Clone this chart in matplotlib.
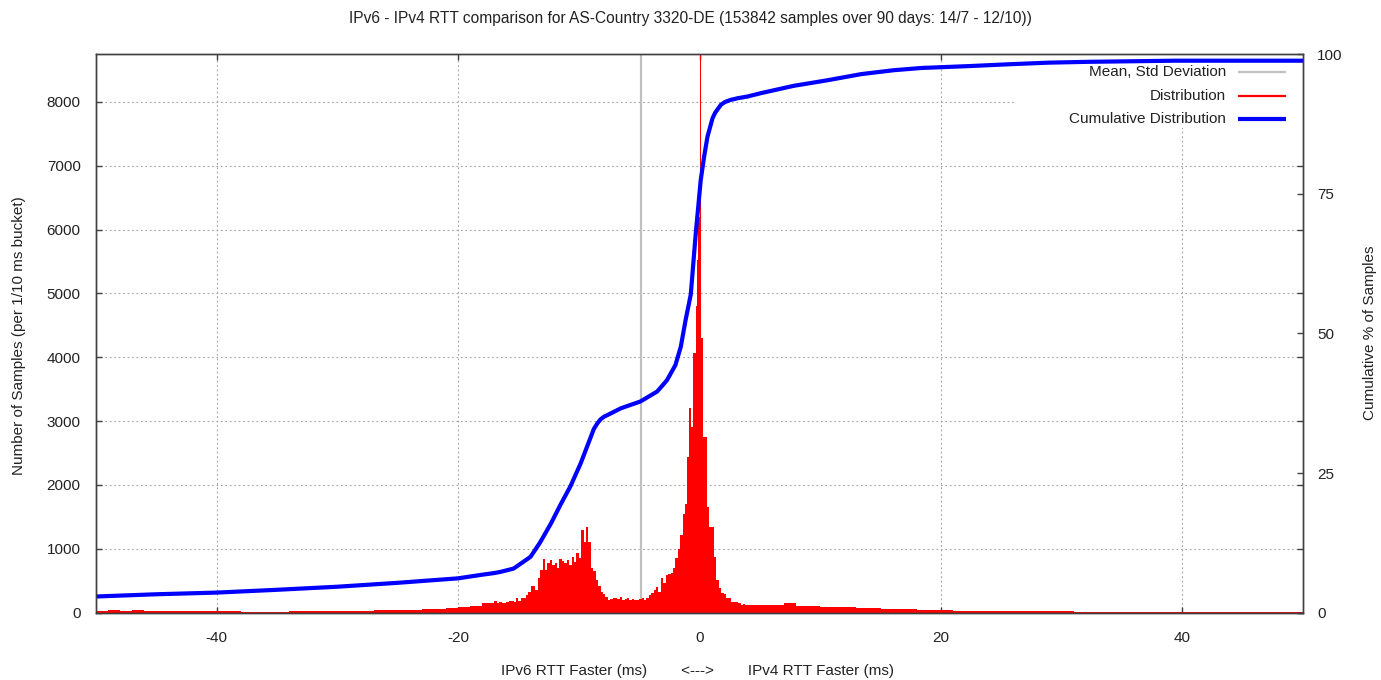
import matplotlib
matplotlib.use("Agg")
import matplotlib.pyplot as plt
import numpy as np
from matplotlib.patches import Rectangle

plt.rcParams["font.family"] = ["Liberation Sans", "DejaVu Sans"]
plt.rcParams["font.size"] = 11
plt.rcParams["axes.unicode_minus"] = False

TITLE = "IPv6 - IPv4 RTT comparison for AS-Country 3320-DE (153842 samples over 90 days: 14/7 - 12/10))"
XLABEL = "IPv6 RTT Faster (ms)        <--->        IPv4 RTT Faster (ms)"
YLABEL = "Number of Samples (per 1/10 ms bucket)"
Y2LABEL = "Cumulative % of Samples"

COLORS = {
    "dist": "#ff0000",
    "cdf": "#0000ff",
    "mean": "#c0c0c0",
    "grid": "#a0a0a0",
    "frame": "#404040",
}

# distribution, counts per bucket
# -50 .. -17 ms, 1 ms buckets
tail_left_counts = [30, 35, 30, 35, 30, 28, 30, 25, 28, 25,
                    20, 20, 18, 18, 18, 18, 20, 20, 22, 22,
                    25, 28, 30, 35, 40, 45, 50, 55, 60, 70,
                    85, 110, 150]
# -17 .. -1 ms, 0.2 ms buckets
core_counts = [180, 150, 160, 147, 147, 160, 190, 190, 172, 225,
               190, 225, 225, 277, 330, 420, 420, 355, 540, 670,
               835, 670, 780, 825, 745, 780, 695, 840, 815, 775,
               825, 745, 877, 800, 930, 850, 1295, 1110, 1346, 1110,
               700, 650, 512, 420, 330, 300, 250, 200, 215, 225,
               225, 210, 240, 200, 215, 225, 200, 215, 200, 200,
               210, 225, 200, 230, 277,
               310, 355, 410, 330, 545, 465, 590, 600, 620, 700,
               850, 1000, 1210, 1550, 1700]
# -1 .. 0.6 ms, 0.1 ms buckets
peak_counts = [2440, 3200, 3200, 2910, 2910, 4060, 4060, 4800, 5520, 6200,
               8750, 4300, 4300, 2750, 2750, 2750]
# 0.6 .. 4 ms, 0.2 ms buckets
shoulder_counts = [1660, 1350, 1350, 880, 510, 390, 310, 300, 230, 230,
                   170, 170, 160, 150, 120, 130, 120]
# 4 .. 50 ms, 1 ms buckets
tail_right_counts = [120, 115, 125, 150, 110, 100, 95, 90, 85, 80,
                     80, 65, 60, 55, 50, 45, 35, 30, 30, 28,
                     26, 25, 24, 24, 22, 20, 20, 18, 18, 16,
                     15, 14, 14, 15, 14, 13, 13, 12, 12, 12,
                     12, 11, 11, 11, 11, 10]

# cumulative distribution (percent)
cdf_x = [-50, -45, -40, -35, -30, -25, -20, -18, -17, -16.5,
         -15.4, -14.8, -14.0, -13.2, -12.3, -11.5, -10.7, -9.85, -9.0, -8.75,
         -8.46, -8.2, -7.9, -7.6, -6.5, -4.9, -3.5, -2.7, -2.0, -1.55,
         -1.15, -0.72, -0.31, 0.1, 0.38, 0.66, 1.08, 1.3, 1.77, 2.1,
         2.6, 3.2, 4.0, 5.1, 7.8, 10.6, 13.4, 16.1, 18.4, 22.5,
         25.5, 28.9, 32.2, 39.4, 50]
cdf_pct = [2.9, 3.3, 3.6, 4.1, 4.65, 5.35, 6.15, 6.8, 7.1, 7.3,
           7.9, 8.8, 10.0, 12.6, 16.0, 19.4, 22.6, 26.7, 31.5, 32.9,
           33.9, 34.6, 35.1, 35.4, 36.6, 37.8, 39.6, 41.6, 44.3, 47.6,
           52.4, 57.0, 67.9, 77.4, 81.6, 85.2, 88.5, 89.5, 90.9, 91.4,
           91.8, 92.1, 92.4, 93.0, 94.3, 95.3, 96.4, 97.1, 97.5, 97.85,
           98.15, 98.45, 98.6, 98.8, 98.8]

mean_ms = -4.87

x_ticks = [-40, -20, 0, 20, 40]
y_ticks = [0, 1000, 2000, 3000, 4000, 5000, 6000, 7000, 8000]
y2_ticks = [0, 25, 50, 75, 100]
legend_labels = ["Mean, Std Deviation", "Distribution", "Cumulative Distribution"]


def bucket_edges():
    segs = [
        np.linspace(-50, -17, len(tail_left_counts) + 1),
        np.linspace(-17, -1, len(core_counts) + 1),
        np.linspace(-1, 0.6, len(peak_counts) + 1),
        np.linspace(0.6, 4, len(shoulder_counts) + 1),
        np.linspace(4, 50, len(tail_right_counts) + 1),
    ]
    return np.concatenate([segs[0]] + [s[1:] for s in segs[1:]])


fig = plt.figure(figsize=(13.81, 6.8), dpi=100)
ax = fig.add_axes([96 / 1381, 67.3 / 680, 1207 / 1381, 558.7 / 680])
ax2 = ax.twinx()

counts = np.array(tail_left_counts + core_counts + peak_counts + shoulder_counts + tail_right_counts)
edges = bucket_edges()

ax.set_axisbelow(True)
ax.grid(True, linestyle=(0, (1.5, 2.5)), color=COLORS["grid"], linewidth=0.8)
# key area blanks the grid, like gnuplot's opaque key
ax.add_patch(Rectangle((0.761, 0.8676), 0.239, 0.1324, transform=ax.transAxes,
                       facecolor="white", edgecolor="none", zorder=1))
ax.stairs(counts, edges, fill=True, color=COLORS["dist"], linewidth=0, zorder=2)
ax.axvline(mean_ms, color=COLORS["mean"], linewidth=1.6, zorder=1.8)

ax2.plot(cdf_x, cdf_pct, color=COLORS["cdf"], linewidth=3, solid_capstyle="butt")

ax.set_xlim(-50, 50)
ax.set_ylim(0, 8750)
ax2.set_ylim(0, 100)
ax.set_xticks(x_ticks)
ax.set_yticks(y_ticks)
ax2.set_yticks(y2_ticks)

for a in (ax, ax2):
    for s in a.spines.values():
        s.set_color(COLORS["frame"])
        s.set_linewidth(1.0)
ax.tick_params(axis="both", direction="in", length=4.5, width=1, color=COLORS["frame"],
               top=True, right=True, labelright=False, labelsize=11, labelcolor="#222222")
ax.tick_params(axis="x", pad=13)
ax.tick_params(axis="y", pad=11)
ax2.tick_params(axis="y", direction="in", length=4.5, width=1, color=COLORS["frame"],
                pad=10, labelsize=11, labelcolor="#222222")

fig.text(690 / 1381, 1 - 18 / 680, TITLE, ha="center", va="center", fontsize=11.2, color="#222222")
fig.text(697 / 1381, 1 - 671 / 680, XLABEL, ha="center", va="center", fontsize=11, color="#222222")
fig.text(19 / 1381, 1 - 336 / 680, YLABEL, ha="center", va="center", rotation=90, fontsize=11, color="#222222")
fig.text(1370 / 1381, 1 - 333 / 680, Y2LABEL, ha="center", va="center", rotation=90, fontsize=11, color="#222222")

# key, drawn by hand at gnuplot's spot
key_y = [0.9678, 0.9248, 0.8837]
key_style = [(COLORS["mean"], 1.6), (COLORS["dist"], 1.6), (COLORS["cdf"], 3)]
for y, label, (c, lw) in zip(key_y, legend_labels, key_style):
    ax2.text(0.9362, y, label, transform=ax2.transAxes, ha="right", va="center",
             fontsize=11, color="#222222")
    ax2.plot([0.9461, 0.9859], [y, y], transform=ax2.transAxes, color=c, linewidth=lw,
             solid_capstyle="butt")

fig.savefig("out.png", dpi=100)
